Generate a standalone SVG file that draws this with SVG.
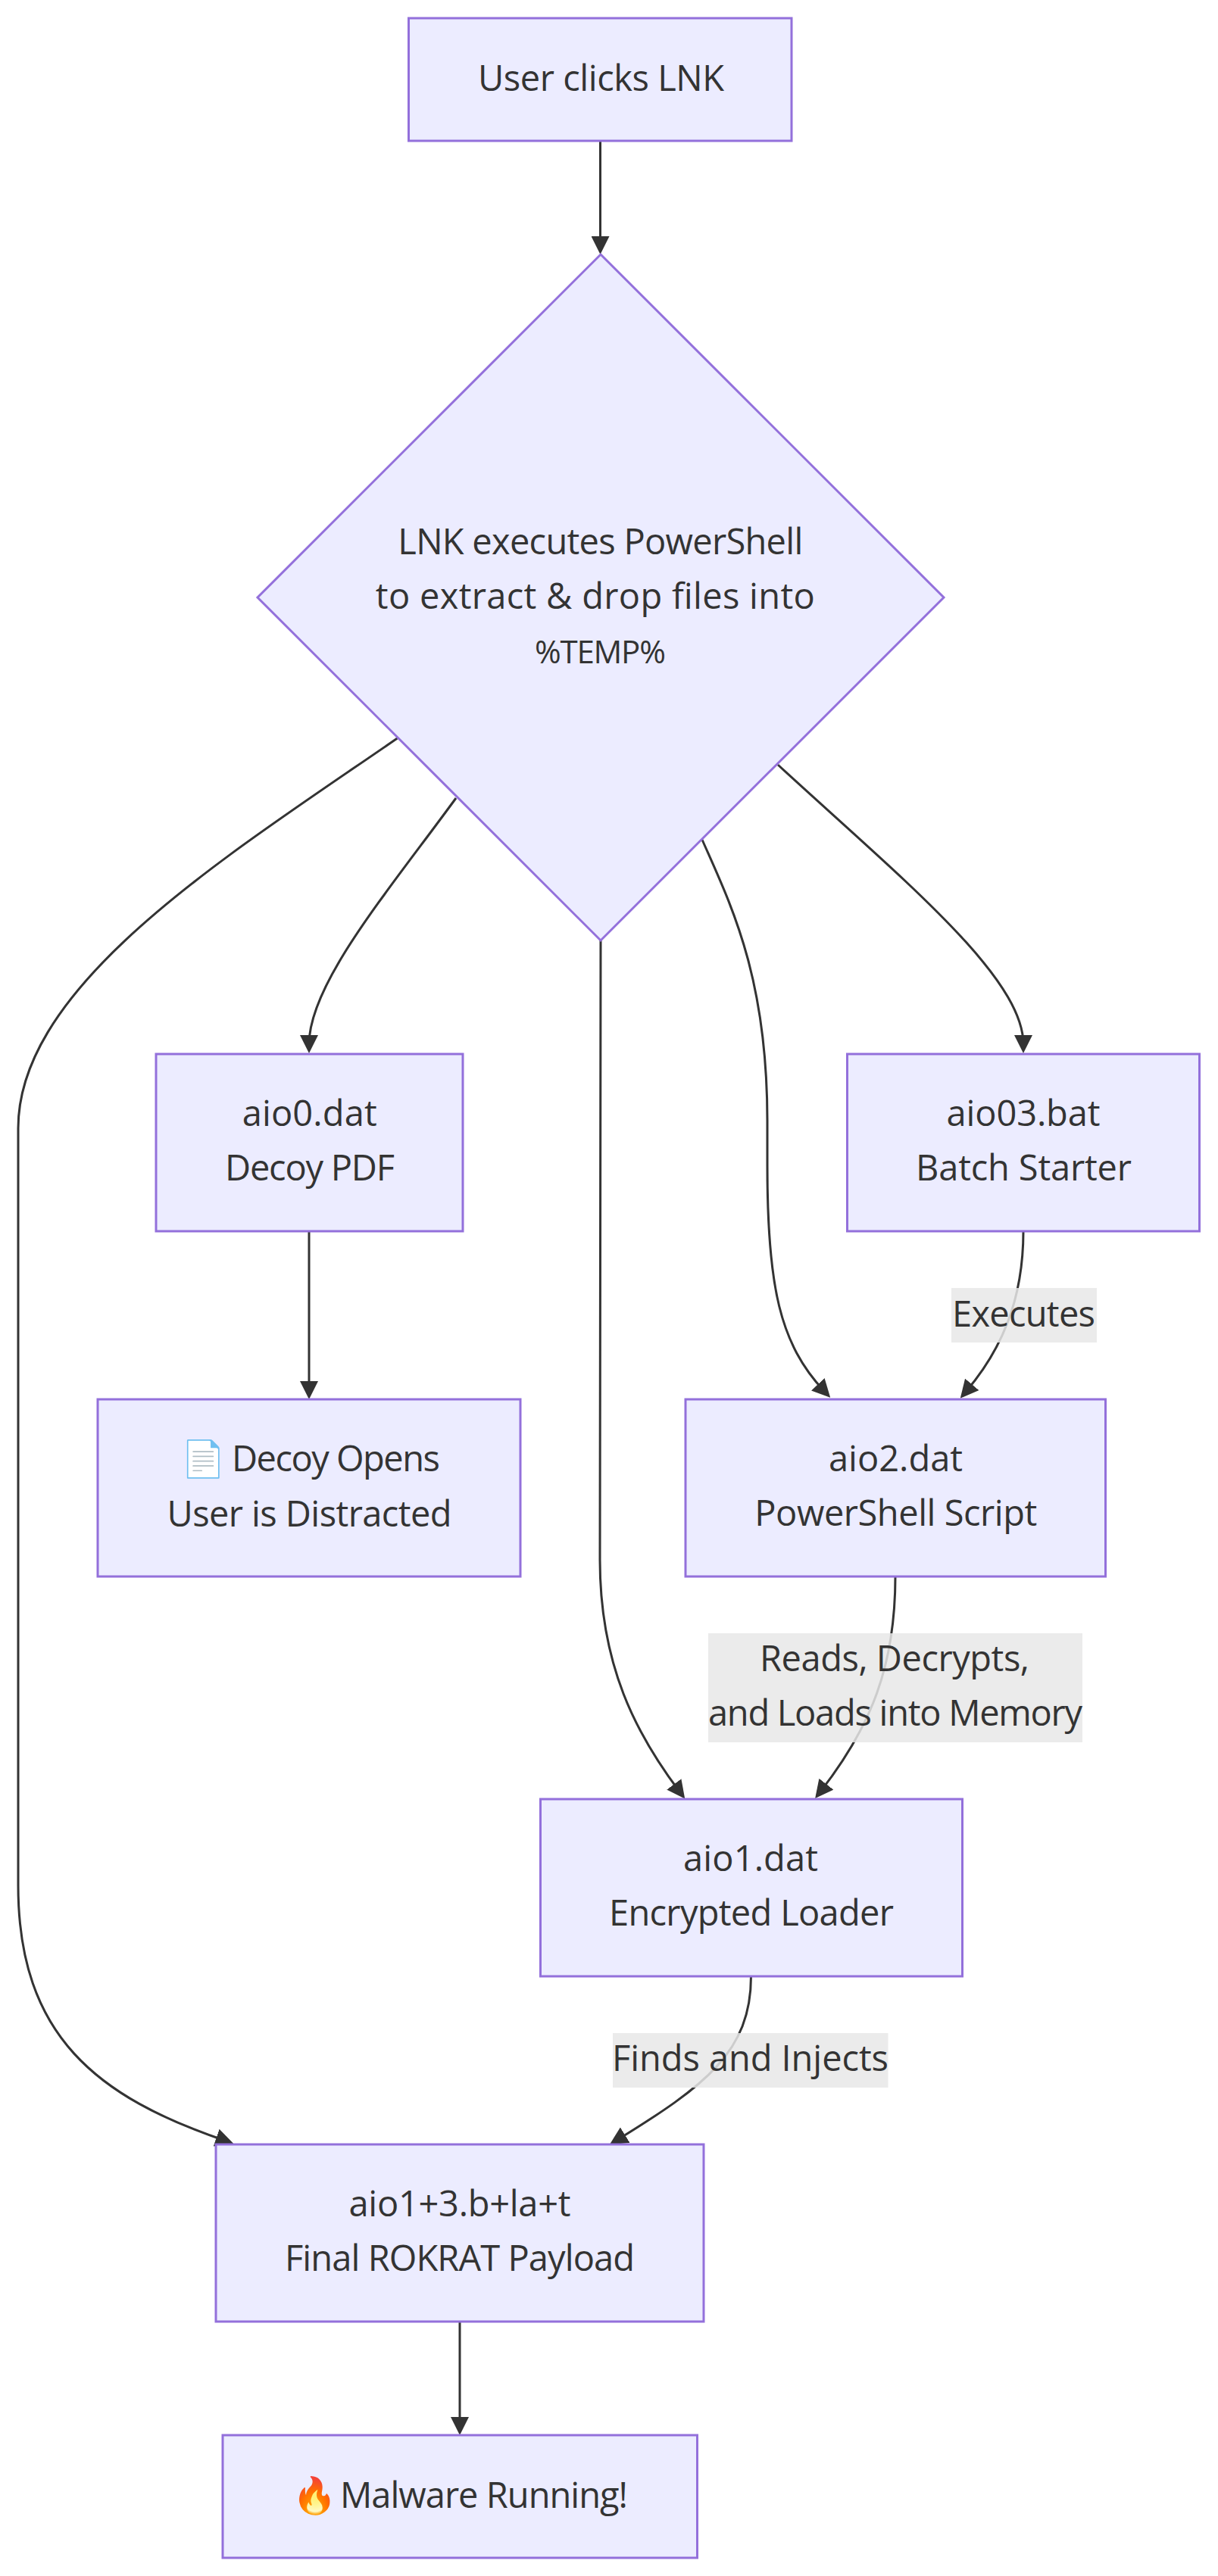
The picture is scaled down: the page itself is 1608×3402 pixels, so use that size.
<svg xmlns="http://www.w3.org/2000/svg" width="1608" height="3402" viewBox="0 0 1608 3402">
<style>
.n{fill:#ECECFF;stroke:#9370DB;stroke-width:3}
.t{font-family:"Open Sans","Liberation Sans",sans-serif;font-size:47px;fill:#333;text-anchor:middle}
.s{text-anchor:start}
.e{fill:none;stroke:#333;stroke-width:3;marker-end:url(#a)}
.l{fill:#e8e8e8;fill-opacity:.85}
</style>
<defs><marker id="a" markerUnits="userSpaceOnUse" markerWidth="24" markerHeight="24" viewBox="0 0 10 10" refX="5" refY="5" orient="auto"><path d="M0,0L10,5L0,10z" fill="#333"/></marker></defs>
<rect width="1608" height="3402" fill="#fff"/>
<g id="connectors">
<path class="e" d="M792.5,187V324"/>
<path class="e" d="M602,1054C510,1180 408,1300 408,1379"/>
<path class="e" d="M524.5,975C300,1130 24,1300 24,1490L24,2490C24,2690 130,2770 297,2827"/>
<path class="e" d="M793,1242L792,2060C792,2200 840,2290 897,2366"/>
<path class="e" d="M927,1109C965,1195 1013,1290 1013,1480L1013,1540C1013,1700 1030,1775 1088,1837"/>
<path class="e" d="M1027,1010C1190,1160 1351,1290 1351,1379"/>
<path class="e" d="M408,1626V1836"/>
<path class="e" d="M1351,1626C1351,1720 1320,1785 1275.5,1837.5"/>
<path class="e" d="M1182,2082C1182,2200 1150,2280 1083.5,2365.6"/>
<path class="e" d="M991.5,2610C991.5,2710 930,2755 815,2826"/>
<path class="e" d="M607,3066V3204"/>
</g>
<g id="label-executes"><rect class="l" x="1256" y="1701" width="192" height="72"/><text class="t" x="1351.500" y="1752" textLength="189">Executes</text></g>
<g id="label-reads"><rect class="l" x="935" y="2157" width="494" height="144"/><text class="t" x="1181" y="2207" textLength="356">Reads, Decrypts,</text><text class="t" x="1182" y="2279" textLength="494">and Loads into Memory</text></g>
<g id="label-finds"><rect class="l" x="809" y="2685" width="363.500" height="72"/><text class="t" x="990.500" y="2735" textLength="365">Finds and Injects</text></g>
<g id="A"><rect class="n" x="539.500" y="24" width="505.500" height="162"/><text class="t" x="793.500" y="120" textLength="325">User clicks LNK</text></g>
<g id="B"><path class="n" d="M793,336L1246,789L793,1242L340,789z"/><text class="t" x="792.800" y="731.500" textLength="535">LNK executes PowerShell</text><text class="t" x="785.800" y="803.500" textLength="580">to extract &amp; drop files into</text><text class="t" x="792.400" y="875.500" textLength="173" style="font-size:42px">%TEMP%</text></g>
<g id="C"><rect class="n" x="206" y="1392" width="405" height="234"/><text class="t" x="408.700" y="1487" textLength="178">aio0.dat</text><text class="t" x="409" y="1559" textLength="224">Decoy PDF</text></g>
<g id="D"><rect class="n" x="1118.500" y="1392" width="465" height="234"/><text class="t" x="1351" y="1487" textLength="203">aio03.bat</text><text class="t" x="1351.500" y="1559" textLength="285">Batch Starter</text></g>
<g id="E"><rect class="n" x="129" y="1848" width="558" height="234"/><text class="t s" y="1943"><tspan x="239">📄 </tspan><tspan x="306" textLength="275">Decoy Opens</tspan></text><text class="t" x="408.500" y="2015.500" textLength="376">User is Distracted</text></g>
<g id="F"><rect class="n" x="905" y="1848" width="554.500" height="234"/><text class="t" x="1182.500" y="1943" textLength="177">aio2.dat</text><text class="t" x="1182.800" y="2015" textLength="373">PowerShell Script</text></g>
<g id="G"><rect class="n" x="713.500" y="2376" width="557" height="234"/><text class="t" x="991" y="2471" textLength="178">aio1.dat</text><text class="t" x="992" y="2543" textLength="376">Encrypted Loader</text></g>
<g id="H"><rect class="n" x="285" y="2832" width="644" height="234"/><text class="t" x="607" y="2927" textLength="293">aio1+3.b+la+t</text><text class="t" x="607" y="2999" textLength="462">Final ROKRAT Payload</text></g>
<g id="I"><rect class="n" x="294" y="3216" width="626.500" height="162"/><text class="t s" y="3312"><tspan x="386">🔥 </tspan><tspan x="449" textLength="380">Malware Running!</tspan></text></g>
</svg>
